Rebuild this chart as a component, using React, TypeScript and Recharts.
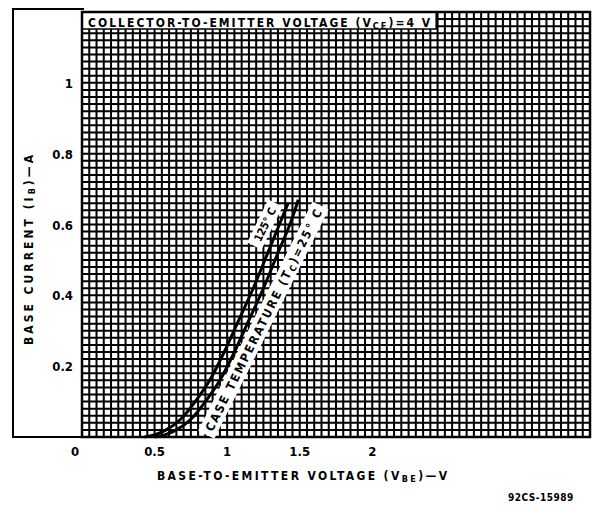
import React from 'react';
import { LineChart, Line, XAxis, YAxis, CartesianGrid, ReferenceArea, ReferenceDot } from 'recharts';

// base-to-emitter voltage (V) vs base current (A)
const vbe125 = [0.43, 0.5, 0.58, 0.68, 0.78, 0.88, 0.98, 1.08, 1.18, 1.28, 1.38, 1.42];
const ib125 = [0, 0.006, 0.02, 0.05, 0.1, 0.16, 0.24, 0.33, 0.42, 0.52, 0.62, 0.66];
const vbe25 = [0.5, 0.57, 0.65, 0.75, 0.85, 0.95, 1.05, 1.15, 1.25, 1.35, 1.45, 1.49];
const ib25 = [0, 0.006, 0.02, 0.05, 0.1, 0.16, 0.24, 0.33, 0.42, 0.52, 0.62, 0.67];

const xTicks = [0, 0.5, 1, 1.5, 2];
const yTicks = [0.2, 0.4, 0.6, 0.8, 1];

const gridX = Array.from({ length: 71 }, (_, i) => +(i * 0.05).toFixed(2));
const gridY = Array.from({ length: 61 }, (_, i) => +(i * 0.02).toFixed(2));

const curve125 = vbe125.map((v, i) => ({ v, ib: ib125[i] }));
const curve25 = vbe25.map((v, i) => ({ v, ib: ib25[i] }));

const FONT = '"DejaVu Sans Condensed", "DejaVu Sans", sans-serif';

const XTick = (props: any) => {
  const { x, y, payload } = props;
  const dx = payload.value === 0 ? -7 : 0;
  return (
    <text x={x + dx} y={y + 11} textAnchor="middle" fontFamily={FONT} fontWeight="bold" fontSize={13} fill="#000">
      {String(payload.value)}
    </text>
  );
};

const YTick = (props: any) => {
  const { x, y, payload } = props;
  return (
    <text x={x - 1} y={y + 5} textAnchor="end" fontFamily={FONT} fontWeight="bold" fontSize={13} fill="#000">
      {String(payload.value)}
    </text>
  );
};

const XLabel = () => (
  <text x={302} y={480} textAnchor="middle" fontFamily={FONT} fontWeight="bold" fontSize={12}
    textLength={290} lengthAdjust="spacing" fill="#000">
    BASE-TO-EMITTER VOLTAGE (V<tspan fontSize={9} dy={2}>BE</tspan><tspan dy={-2}>)—V</tspan>
  </text>
);

const YLabel = () => (
  <text transform="translate(33,250) rotate(-90)" textAnchor="middle" fontFamily={FONT} fontWeight="bold"
    fontSize={12} textLength={190} lengthAdjust="spacing" fill="#000">
    BASE CURRENT (I<tspan fontSize={9} dy={2}>B</tspan><tspan dy={-2}>)—A</tspan>
  </text>
);

const CaseLabel = (p: any) => (
  <g transform={`translate(${p.cx},${p.cy}) rotate(-63.5)`}>
    <rect x={-128} y={-9} width={256} height={18} fill="#fff" />
    <text x={0} y={4.5} textAnchor="middle" fontFamily={FONT} fontWeight="bold" fontSize={12}
      textLength={246} lengthAdjust="spacing" fill="#000">
      CASE TEMPERATURE (T<tspan fontSize={9} dy={2}>C</tspan><tspan dy={-2}>)=25° C</tspan>
    </text>
  </g>
);

const HotLabel = (p: any) => (
  <g transform={`translate(${p.cx},${p.cy}) rotate(-64)`}>
    <rect x={-24} y={-8} width={48} height={16} fill="#fff" />
    <text x={0} y={4} textAnchor="middle" fontFamily={FONT} fontWeight="bold" fontSize={11} fill="#000">
      125° C
    </text>
  </g>
);

const TitleBox = (props: any) => {
  const { x, y, width, height } = props;
  return (
    <g>
      <rect x={x} y={y} width={width} height={height} fill="#fff" stroke="#000" strokeWidth={1.5} />
      <text x={x + 6} y={y + 15} fontFamily={FONT} fontWeight="bold" fontSize={12}
        textLength={width - 12} lengthAdjust="spacing" fill="#000">
        COLLECTOR-TO-EMITTER VOLTAGE (V<tspan fontSize={9} dy={2}>CE</tspan><tspan dy={-2}>)=4 V</tspan>
      </text>
    </g>
  );
};

export default function App() {
  return (
    <div style={{ position: 'absolute', left: 0, top: 0, width: 597, height: 507, background: '#fff' }}>
      <div style={{ position: 'absolute', left: 12, top: 8, width: 72, height: 430, boxSizing: 'border-box',
        borderLeft: '2px solid #000', borderTop: '2px solid #000', borderBottom: '2px solid #000' }} />
      <LineChart width={597} height={507} data={curve25} margin={{ top: 12, right: 7, left: 0, bottom: 0 }}
        style={{ position: 'absolute', left: 0, top: 0 }}>
        <CartesianGrid stroke="#000" strokeWidth={2} verticalValues={gridX} horizontalValues={gridY} />
        <XAxis type="number" dataKey="v" domain={[0, 3.5]} ticks={xTicks} height={70} axisLine={false}
          tickLine={false} tick={<XTick />} interval={0} label={<XLabel />} />
        <YAxis type="number" dataKey="ib" domain={[0, 1.2]} ticks={yTicks} width={82} axisLine={false}
          tickLine={false} tick={<YTick />} interval={0} label={<YLabel />} />
        <Line data={curve125} dataKey="ib" type="monotone" stroke="#000" strokeWidth={3} dot={false} isAnimationActive={false} />
        <Line data={curve25} dataKey="ib" type="monotone" stroke="#000" strokeWidth={3} dot={false} isAnimationActive={false} />
        <ReferenceDot x={1.25} y={0.33} r={0} shape={CaseLabel} />
        <ReferenceDot x={1.26} y={0.6} r={0} shape={HotLabel} />
        <ReferenceArea x1={0} x2={2.44} y1={1.152} y2={1.2} shape={TitleBox} />
        <ReferenceArea x1={0} x2={3.5} y1={0} y2={1.2} fill="none" fillOpacity={0} stroke="#000" strokeWidth={2.5} />
      </LineChart>
      <div style={{ position: 'absolute', left: 508, top: 492, fontFamily: FONT, fontWeight: 'bold', fontSize: 10, letterSpacing: 0.5 }}>
        92CS-15989
      </div>
    </div>
  );
}
